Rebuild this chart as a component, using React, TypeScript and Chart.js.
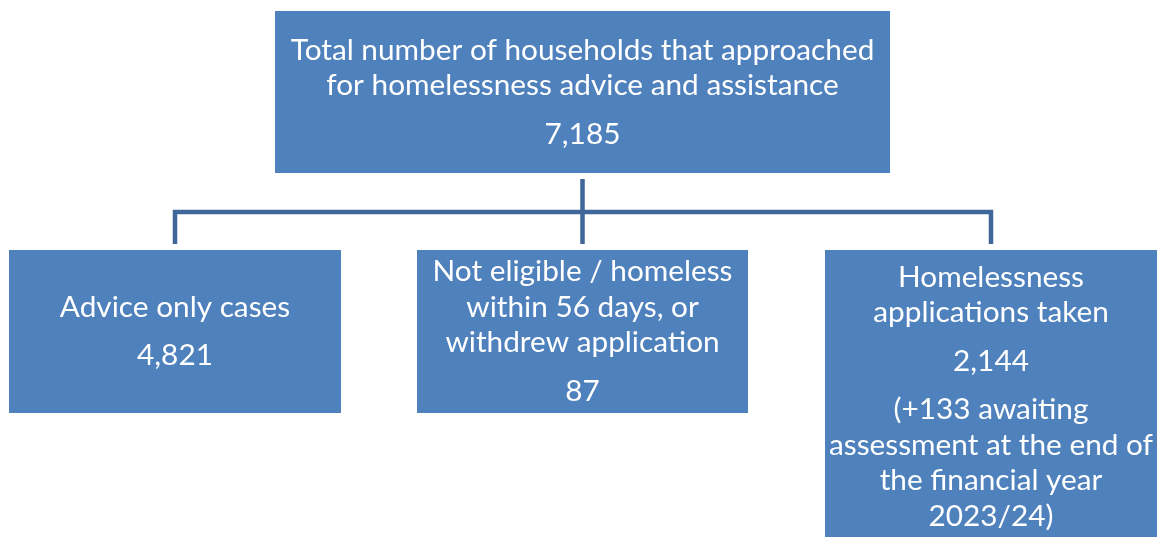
import React, { useEffect, useRef } from "react";
import { Chart, registerables } from "chart.js";

Chart.register(...registerables);

// ---- data ----
const nodeTitles: string[][] = [
  ["Total number of households that approached", "for homelessness advice and assistance"],
  ["Advice only cases"],
  ["Not eligible / homeless", "within 56 days, or", "withdrew application"],
  ["Homelessness", "applications taken"],
];
const nodeValues: number[] = [7185, 4821, 87, 2144];
const nodeNotes: string[][] = [
  [],
  [],
  [],
  ["(+133 awaiting", "assessment at the end of", "the financial year", "2023/24)"],
];
const nodeParents: (number | null)[] = [null, 0, 0, 0];

// ---- layout (scale units) ----
const boxLeft = [275, 9, 417, 825];
const boxRight = [890, 341, 748, 1157];
const boxTop = [11, 250, 250, 250];
const boxBottom = [173, 413, 413, 543];
const busLevel = 212;
const connectorGap = 6;

const W = 1159;
const H = 537;
const BOX_FILL = "#4F81BD";
const LINE_COLOR = "#40679A";
const FONT_FAMILY = "Lato, 'Open Sans', sans-serif";

const fmt = (v: number) => v.toLocaleString("en-GB");

function buildConnectors() {
  const paths: { x: number; y: number }[][] = [];
  const children = nodeParents
    .map((p, i) => ({ p, i }))
    .filter((d) => d.p !== null);
  const parents = Array.from(new Set(children.map((c) => c.p as number)));
  const cx = (i: number) => (boxLeft[i] + boxRight[i]) / 2;
  parents.forEach((p) => {
    const kids = children.filter((c) => c.p === p).map((c) => c.i);
    const pcx = cx(p);
    paths.push([
      { x: pcx, y: boxBottom[p] + connectorGap },
      { x: pcx, y: boxTop[kids[0]] - connectorGap },
    ]);
    const sorted = kids.slice().sort((a, b) => cx(a) - cx(b));
    const first = sorted[0];
    const last = sorted[sorted.length - 1];
    paths.push([
      { x: cx(first), y: boxTop[first] - connectorGap },
      { x: cx(first), y: busLevel },
      { x: cx(last), y: busLevel },
      { x: cx(last), y: boxTop[last] - connectorGap },
    ]);
  });
  return paths;
}

const boxPlugin = {
  id: "orgBoxes",
  beforeDatasetsDraw(chart: any) {
    const { ctx, scales } = chart;
    const xs = scales.x;
    const ys = scales.y;
    ctx.save();
    ctx.font = `100px ${FONT_FAMILY}`;
    const ref = ctx.measureText(nodeTitles[0][0]).width;
    const fontSize = (100 * 584) / ref;
    ctx.font = `${fontSize}px ${FONT_FAMILY}`;
    const lineStep = 35.5;
    const paraStep = 48.5;
    nodeValues.forEach((v, i) => {
      const x0 = xs.getPixelForValue(boxLeft[i]);
      const x1 = xs.getPixelForValue(boxRight[i]);
      const y0 = ys.getPixelForValue(boxTop[i]);
      const y1 = ys.getPixelForValue(boxBottom[i]);
      ctx.fillStyle = BOX_FILL;
      ctx.fillRect(x0, y0, x1 - x0, y1 - y0);

      const paras: string[][] = [nodeTitles[i], [fmt(v)]];
      if (nodeNotes[i].length) paras.push(nodeNotes[i]);
      const ypos: number[] = [];
      const lines: string[] = [];
      let y = 0;
      paras.forEach((para, pi) => {
        para.forEach((ln, li) => {
          if (pi > 0 || li > 0) y += li === 0 ? paraStep : lineStep;
          ypos.push(y);
          lines.push(ln);
        });
      });
      const total = y;
      const cy = (y0 + y1) / 2 - total / 2;
      const cx = (x0 + x1) / 2;
      ctx.fillStyle = "#FFFFFF";
      ctx.textAlign = "center";
      ctx.textBaseline = "middle";
      lines.forEach((ln, k) => ctx.fillText(ln, cx, cy + ypos[k]));
    });
    ctx.restore();
  },
};

export default function App() {
  const ref = useRef<HTMLCanvasElement | null>(null);
  useEffect(() => {
    if (!ref.current) return;
    const chart = new Chart(ref.current, {
      type: "scatter",
      data: {
        datasets: buildConnectors().map(
          (path) =>
            ({
              data: path,
              showLine: true,
              borderColor: LINE_COLOR,
              borderWidth: 4.5,
              borderCapStyle: "butt",
              borderJoinStyle: "miter",
              pointRadius: 0,
              pointHoverRadius: 0,
              tension: 0,
            }) as any
        ),
      },
      options: {
        animation: false,
        responsive: false,
        maintainAspectRatio: false,
        layout: { padding: 0 },
        events: [],
        plugins: { legend: { display: false }, tooltip: { enabled: false } },
        scales: {
          x: { type: "linear", min: 0, max: W, display: false },
          y: { type: "linear", min: 0, max: H, reverse: true, display: false },
        },
      },
      plugins: [boxPlugin],
    });
    return () => chart.destroy();
  }, []);
  return (
    <div style={{ position: "fixed", left: 0, top: 0, width: W, height: H, background: "#fff" }}>
      <canvas ref={ref} width={W} height={H} style={{ width: W, height: H, display: "block" }} />
    </div>
  );
}
